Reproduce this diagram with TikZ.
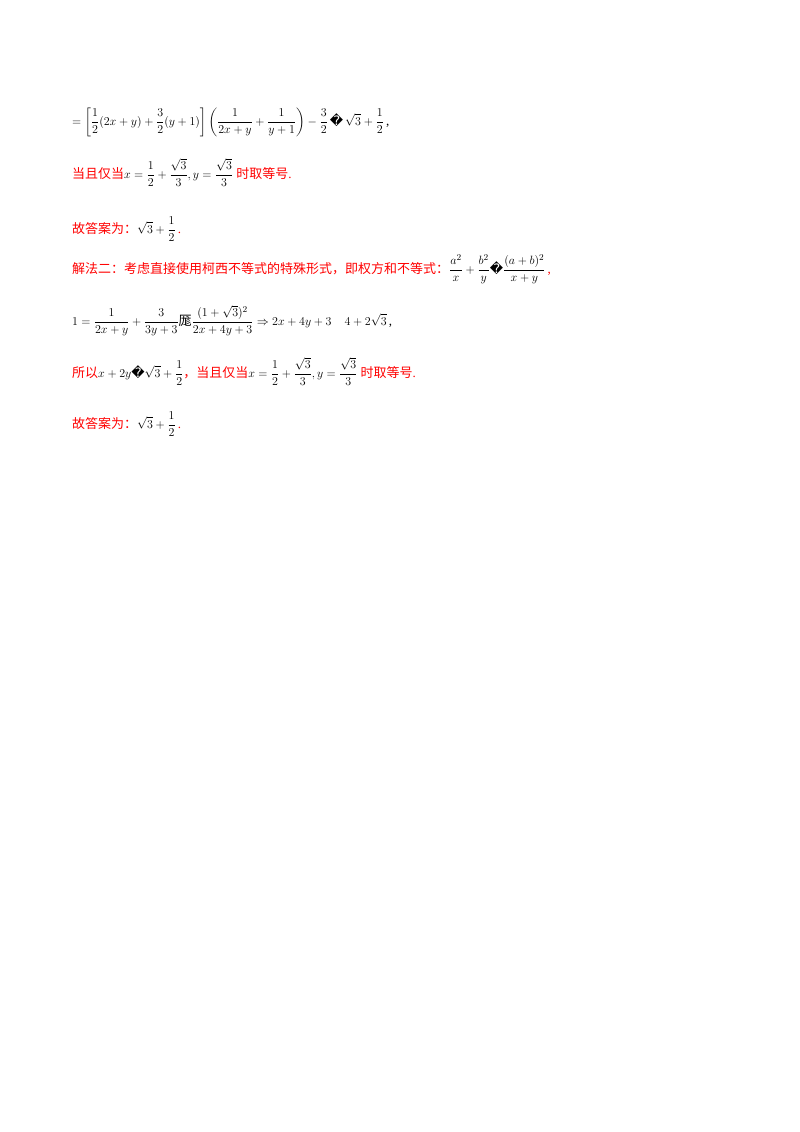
\documentclass[tikz,border=0pt]{standalone}
\usepackage{fontspec}
\setmainfont{Liberation Serif}
\newfontfamily\cjk{Noto Sans CJK SC}
\newfontfamily\dvs{DejaVu Sans}
\newcommand{\qq}{\text{\dvs\char"FFFD}}
\usepackage{amsmath}
\begin{document}
\begin{tikzpicture}[x=1pt,y=-1pt,
  ln/.style={anchor=base west,inner sep=0pt,font=\fontsize{13}{15}\selectfont},
  rd/.style={ln,text=red}]
\useasboundingbox (0,0) rectangle (800,1132);
\node[ln] (l1) at (72,125) {$\displaystyle =\left[\frac12(2x+y)+\frac32(y+1)\right]\left(\frac{1}{2x+y}+\frac{1}{y+1}\right)-\frac32\,\qq\,\sqrt3+\frac12$\,,};
\node[rd] (l2) at (72,178) {{\cjk 当且仅当}\textcolor{black}{$\displaystyle x=\frac12+\frac{\sqrt3}{3},y=\frac{\sqrt3}{3}$} {\cjk 时取等号}.};
\node[rd] (l3) at (72,233) {{\cjk 故答案为：}\textcolor{black}{$\displaystyle\sqrt3+\frac12$}\,.};
\node[rd] (l4) at (72,273) {{\cjk 解法二：考虑直接使用柯西不等式的特殊形式，即权方和不等式：}\textcolor{black}{$\displaystyle\frac{a^2}{x}+\frac{b^2}{y}\qq\frac{(a+b)^2}{x+y}$}\,,};
\node[ln] (l5) at (72,325) {$\displaystyle 1=\frac{1}{2x+y}+\frac{3}{3y+3}\text{\cjk 厖}\frac{(1+\sqrt3)^2}{2x+4y+3}\Rightarrow 2x+4y+3\quad 4+2\sqrt3$\,,};
\node[rd] (l6) at (72,377) {{\cjk 所以}\textcolor{black}{$\displaystyle x+2y\qq\sqrt3+\frac12$}{\cjk ，当且仅当}\textcolor{black}{$\displaystyle x=\frac12+\frac{\sqrt3}{3},y=\frac{\sqrt3}{3}$} {\cjk 时取等号}.};
\node[rd] (l7) at (72,428) {{\cjk 故答案为：}\textcolor{black}{$\displaystyle\sqrt3+\frac12$}\,.};
\end{tikzpicture}
\end{document}
